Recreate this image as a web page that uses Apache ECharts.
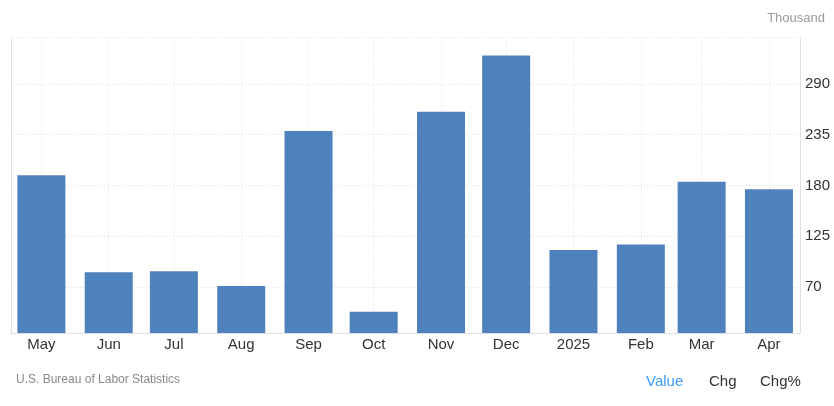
<!DOCTYPE html>
<html>
<head>
<meta charset="utf-8">
<script src="https://cdn.jsdelivr.net/npm/echarts@6/dist/echarts.min.js"></script>
<style>
html,body{margin:0;padding:0;background:#fff;}
#chart{width:834px;height:406px;}
</style>
</head>
<body>
<div id="chart"></div>
<script>
// ---- data ----
const dates = ['2024-05-01','2024-06-01','2024-07-01','2024-08-01','2024-09-01','2024-10-01',
               '2024-11-01','2024-12-01','2025-01-01','2025-02-01','2025-03-01','2025-04-01'];
const monthLabels = ['May','Jun','Jul','Aug','Sep','Oct','Nov','Dec','2025','Feb','Mar','Apr'];
const values = [191, 86, 87, 71, 239, 43, 260, 321, 110, 116, 184, 176];
const yTickValues = [70, 125, 180, 235, 290];
const yMin = 20;
const yMax = 341;

// x positions: days since the first month (Date.UTC keeps it timezone independent)
const DAY = 86400000;
const toUTC = s => { const p = s.split('-').map(Number); return Date.UTC(p[0], p[1] - 1, p[2]); };
const t0 = toUTC(dates[0]);
const dayPos = dates.map(d => Math.round((toUTC(d) - t0) / DAY));
const labelByPos = {};
dayPos.forEach((p, i) => { labelByPos[p] = monthLabels[i]; });

const chart = echarts.init(document.getElementById('chart'), null, {renderer: 'canvas'});
const font = 'Arial, "Liberation Sans", sans-serif';
const gridDash = {color: '#e3e3e3', type: [1, 2], width: 1};

chart.setOption({
  animation: false,
  backgroundColor: '#ffffff',
  title: [
    {text: 'Thousand', right: 4, top: 7, textStyle: {fontSize: 13, fontWeight: 'normal', color: '#999999', fontFamily: font}},
    {text: 'U.S. Bureau of Labor Statistics', left: 11, top: 369, textStyle: {fontSize: 12, fontWeight: 'normal', color: '#888888', fontFamily: font}},
    {text: 'Value', left: 641, top: 369, textStyle: {fontSize: 15, fontWeight: 'normal', color: '#3d9bf0', fontFamily: font}},
    {text: 'Chg', left: 704, top: 369, textStyle: {fontSize: 15, fontWeight: 'normal', color: '#333333', fontFamily: font}},
    {text: 'Chg%', left: 755, top: 369, textStyle: {fontSize: 15, fontWeight: 'normal', color: '#333333', fontFamily: font}}
  ],
  grid: {left: 11, right: 34, top: 37, bottom: 73, containLabel: false},
  xAxis: {
    type: 'value',
    min: dayPos[0] - 14,
    max: dayPos[dayPos.length - 1] + 14.3,
    axisLine: {show: true, onZero: false, lineStyle: {color: '#e0e0e0', width: 1}},
    axisTick: {show: false, customValues: dayPos},
    axisLabel: {
      customValues: dayPos,
      hideOverlap: false,
      showMinLabel: true,
      showMaxLabel: true,
      margin: 4,
      fontSize: 15,
      color: '#333333',
      fontFamily: font,
      formatter: v => labelByPos[v] || ''
    },
    splitLine: {show: true, lineStyle: gridDash}
  },
  yAxis: [
    {
      type: 'value',
      position: 'right',
      min: yMin,
      max: yMax,
      axisLine: {show: true, onZero: false, lineStyle: {color: '#e0e0e0', width: 1}},
      axisTick: {show: false, customValues: yTickValues.concat([yMax])},
      axisLabel: {customValues: yTickValues, margin: 5, fontSize: 15, color: '#333333', fontFamily: font},
      splitLine: {show: true, lineStyle: gridDash}
    },
    {
      type: 'value',
      position: 'left',
      min: yMin,
      max: yMax,
      axisLine: {show: true, onZero: false, lineStyle: {color: '#e0e0e0', width: 1}},
      axisTick: {show: false},
      axisLabel: {show: false},
      splitLine: {show: false}
    }
  ],
  series: [{
    type: 'bar',
    yAxisIndex: 0,
    barWidth: 48,
    itemStyle: {color: '#4f81bd'},
    data: dayPos.map((p, i) => [p, values[i]])
  }]
});
</script>
</body>
</html>
